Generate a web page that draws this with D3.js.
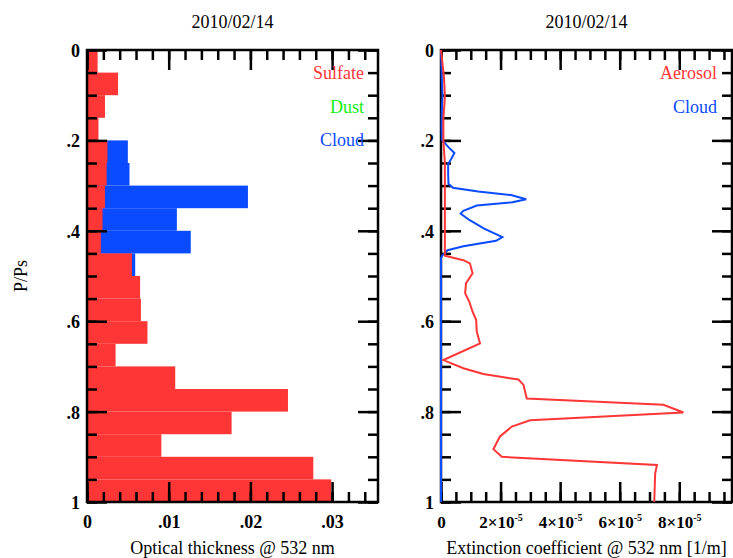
<!DOCTYPE html>
<html>
<head>
<meta charset="utf-8">
<script src="https://cdn.jsdelivr.net/npm/d3@7/dist/d3.min.js"></script>
<style>
  html, body { margin: 0; padding: 0; background: #fff; }
  svg { display: block; }
  text { font-family: "Liberation Serif", "DejaVu Serif", serif; }
</style>
</head>
<body>
<svg id="chart" width="733" height="558"></svg>
<script>
// ---------------- data ----------------
const chartTitle = "2010/02/14";

// P/Ps layer tops (each layer is 0.05 thick)
const layerTop = [0.00,0.05,0.10,0.15,0.20,0.25,0.30,0.35,0.40,0.45,
                  0.50,0.55,0.60,0.65,0.70,0.75,0.80,0.85,0.90,0.95];
const layerThickness = 0.05;
// optical thickness @ 532 nm per layer
const sulfateTau = [0.0013,0.0038,0.0022,0.0014,0.0025,0.0024,0.0022,0.0019,0.0017,0.0055,
                    0.0065,0.0066,0.0074,0.0035,0.0108,0.0246,0.0177,0.0091,0.0277,0.0299];
const dustTau    = [0,0,0,0,0,0,0,0,0,0,0,0,0,0,0,0,0,0,0,0];
const cloudTau   = [0,0,0,0,0.0050,0.0052,0.0197,0.0110,0.0127,0.0059,
                    0,0,0,0,0,0,0,0,0,0];

// extinction coefficient profiles (1/m)
const aerosolP   = [0.000,0.030,0.060,0.100,0.115,0.150,0.200,0.250,0.455,0.465,0.472,0.494,0.516,0.538,
                    0.557,0.579,0.597,0.623,0.649,0.686,0.704,0.717,0.729,0.741,0.771,0.785,0.802,
                    0.819,0.833,0.855,0.883,0.900,0.918,0.937,1.000];
const aerosolExt = [0.00e-5,0.05e-5,0.10e-5,0.13e-5,0.12e-5,0.08e-5,0.08e-5,0.13e-5,0.13e-5,0.75e-5,0.97e-5,1.06e-5,0.84e-5,0.81e-5,
                    0.95e-5,1.06e-5,1.18e-5,1.20e-5,1.31e-5,0.08e-5,0.75e-5,1.42e-5,2.60e-5,2.77e-5,2.88e-5,7.47e-5,8.14e-5,
                    2.99e-5,2.38e-5,1.98e-5,1.76e-5,2.04e-5,7.25e-5,7.19e-5,7.16e-5];
const cloudP     = [0.000,0.070,0.100,0.130,0.170,0.199,0.215,0.228,0.240,0.252,0.272,0.296,0.305,0.313,
                    0.321,0.330,0.337,0.344,0.356,0.362,0.376,0.395,0.414,0.422,0.434,0.443,0.455,0.460,1.000];
const cloudExt   = [0,0.03e-5,0.05e-5,0.03e-5,0.02e-5,0.03e-5,0.25e-5,0.45e-5,0.35e-5,0.24e-5,0.24e-5,0.25e-5,0.40e-5,1.25e-5,
                    2.35e-5,2.86e-5,2.40e-5,1.20e-5,0.75e-5,0.66e-5,0.95e-5,1.45e-5,2.06e-5,1.85e-5,0.75e-5,0.22e-5,0.04e-5,0,0];

// ticks
const yMajorTicks = [0,0.2,0.4,0.6,0.8,1];
const yTickLabels = ["0",".2",".4",".6",".8","1"];
const tauMajorTicks = [0,0.01,0.02,0.03];
const tauTickLabels = ["0",".01",".02",".03"];
const extMajorTicks = [0,2e-5,4e-5,6e-5,8e-5];
const extTickMantissa = ["0","2×10","4×10","6×10","8×10"];
const extTickExponent = ["","-5","-5","-5","-5"];

const leftLegend  = ["Sulfate","Dust","Cloud"];
const rightLegend = ["Aerosol","Cloud"];
const leftXTitle  = "Optical thickness @ 532 nm";
const rightXTitle = "Extinction coefficient @ 532 nm [1/m]";
const yTitle = "P/Ps";

// ---------------- style ----------------
const RED = "#ff3636", GREEN = "#11ee11", BLUE = "#0a4bff";
const plotTop = 50, plotBottom = 502;
const L = {x0: 87, x1: 378, max: 0.03562};
const R = {x0: 441, x1: 732, max: 9.77e-5};
const MAJ = 20, MIN = 10;
const TICKFONT = 18;

const svg = d3.select("#chart");
const y = d3.scaleLinear().domain([0,1]).range([plotTop,plotBottom]);
const xL = d3.scaleLinear().domain([0,L.max]).range([L.x0,L.x1]);
const xR = d3.scaleLinear().domain([0,R.max]).range([R.x0,R.x1]);

const yMinor = d3.range(0,1.0001,0.05).map(v=>+v.toFixed(2));
const tauMinor = d3.range(0,0.0345,0.002).map(v=>+v.toFixed(3));
const extMinor = d3.range(0,9.6e-5,0.5e-5).map(v=>+v.toExponential(2));

function styleAxis(g){
  g.select(".domain").remove();
  g.selectAll(".tick line").attr("stroke","#000").attr("stroke-width",2.5);
}

function frame(P, x, xMajor, xMinor){
  svg.append("g").attr("transform",`translate(${P.x0},0)`).call(d3.axisRight(y).tickValues(yMinor).tickSize(MIN).tickFormat("")).call(styleAxis);
  svg.append("g").attr("transform",`translate(${P.x0},0)`).call(d3.axisRight(y).tickValues(yMajorTicks).tickSize(MAJ).tickFormat("")).call(styleAxis);
  svg.append("g").attr("transform",`translate(${P.x1},0)`).call(d3.axisLeft(y).tickValues(yMinor).tickSize(MIN).tickFormat("")).call(styleAxis);
  svg.append("g").attr("transform",`translate(${P.x1},0)`).call(d3.axisLeft(y).tickValues(yMajorTicks).tickSize(MAJ).tickFormat("")).call(styleAxis);
  svg.append("g").attr("transform",`translate(0,${plotTop})`).call(d3.axisBottom(x).tickValues(xMinor).tickSize(MIN).tickFormat("")).call(styleAxis);
  svg.append("g").attr("transform",`translate(0,${plotTop})`).call(d3.axisBottom(x).tickValues(xMajor).tickSize(MAJ).tickFormat("")).call(styleAxis);
  svg.append("g").attr("transform",`translate(0,${plotBottom})`).call(d3.axisTop(x).tickValues(xMinor).tickSize(MIN).tickFormat("")).call(styleAxis);
  svg.append("g").attr("transform",`translate(0,${plotBottom})`).call(d3.axisTop(x).tickValues(xMajor).tickSize(MAJ).tickFormat("")).call(styleAxis);
  const gl = svg.append("g").attr("transform",`translate(${P.x0},0)`)
    .call(d3.axisLeft(y).tickValues(yMajorTicks).tickSize(0).tickPadding(7).tickFormat((d,i)=>yTickLabels[i]));
  gl.select(".domain").remove();
  gl.selectAll("text").attr("font-family",'"Liberation Serif", serif').attr("font-size",TICKFONT).attr("font-weight","bold").attr("fill","#000").attr("dy","0.36em");
}

function frameBox(P){
  svg.append("rect").attr("x",P.x0).attr("y",plotTop).attr("width",P.x1-P.x0).attr("height",plotBottom-plotTop)
    .attr("fill","none").attr("stroke","#000").attr("stroke-width",2.5);
}

// ---------- left panel ----------
const gBars = svg.append("g");
gBars.selectAll("rect.cloud").data(cloudTau).join("rect").attr("class","cloud")
  .attr("x",xL(0)).attr("y",(d,i)=>y(layerTop[i]))
  .attr("width",d=>xL(d)-xL(0)).attr("height",y(layerThickness)-y(0))
  .attr("fill",BLUE);
gBars.selectAll("rect.dust").data(dustTau).join("rect").attr("class","dust")
  .attr("x",xL(0)).attr("y",(d,i)=>y(layerTop[i]))
  .attr("width",d=>xL(d)-xL(0)).attr("height",y(layerThickness)-y(0))
  .attr("fill",GREEN);
gBars.selectAll("rect.sulfate").data(sulfateTau).join("rect").attr("class","sulfate")
  .attr("x",xL(0)).attr("y",(d,i)=>y(layerTop[i]))
  .attr("width",d=>xL(d)-xL(0)).attr("height",y(layerThickness)-y(0))
  .attr("fill",RED);

frameBox(L);
frame(L, xL, tauMajorTicks, tauMinor);

const gxl = svg.append("g").attr("transform",`translate(0,${plotBottom})`)
  .call(d3.axisBottom(xL).tickValues(tauMajorTicks).tickSize(0).tickFormat((d,i)=>tauTickLabels[i]));
gxl.select(".domain").remove();
gxl.selectAll("text").attr("font-family",'"Liberation Serif", serif').attr("font-size",TICKFONT).attr("font-weight","bold").attr("fill","#000").attr("dy",null).attr("y",26);

// ---------- right panel ----------
frameBox(R);
frame(R, xR, extMajorTicks, extMinor);

const line = d3.line().x(d=>xR(d[1])).y(d=>y(d[0]));
svg.append("path").datum(cloudP.map((p,i)=>[p,cloudExt[i]]))
  .attr("d",line).attr("fill","none").attr("stroke",BLUE).attr("stroke-width",2);
svg.append("path").datum(aerosolP.map((p,i)=>[p,aerosolExt[i]]))
  .attr("d",line).attr("fill","none").attr("stroke",RED).attr("stroke-width",2);

const gxr = svg.append("g").attr("transform",`translate(0,${plotBottom})`)
  .call(d3.axisBottom(xR).tickValues(extMajorTicks).tickSize(0).tickFormat(""));
gxr.select(".domain").remove();
gxr.selectAll(".tick").each(function(d,i){
  const t = d3.select(this).append("text").attr("y",26)
    .attr("text-anchor","middle").attr("font-size",17).attr("font-weight","bold").attr("fill","#000");
  t.append("tspan").text(extTickMantissa[i]);
  if (extTickExponent[i]) t.append("tspan").attr("dy",-7).attr("font-size",10).text(extTickExponent[i]);
});

// ---------- titles, legends ----------
function txt(x,yy,s,opt={}){
  return svg.append("text").attr("x",x).attr("y",yy).text(s)
    .attr("font-size",opt.size||18).attr("font-weight",opt.weight||"normal")
    .attr("fill",opt.fill||"#000").attr("text-anchor",opt.anchor||"middle");
}
txt((L.x0+L.x1)/2, 28, chartTitle);
txt((R.x0+R.x1)/2, 28, chartTitle);
txt((L.x0+L.x1)/2, 554, leftXTitle);
txt((R.x0+R.x1)/2, 554, rightXTitle);
svg.append("text").attr("transform","translate(27,276) rotate(-90)").attr("text-anchor","middle")
  .attr("font-size",18).text(yTitle);

const legColL = [RED, GREEN, BLUE];
leftLegend.forEach((s,i)=>txt(L.x1-14, 79+i*33.5, s, {fill:legColL[i], anchor:"end"}));
const legColR = [RED, BLUE];
rightLegend.forEach((s,i)=>txt(R.x1-15, 79+i*33.5, s, {fill:legColR[i], anchor:"end"}));
</script>
</body>
</html>
